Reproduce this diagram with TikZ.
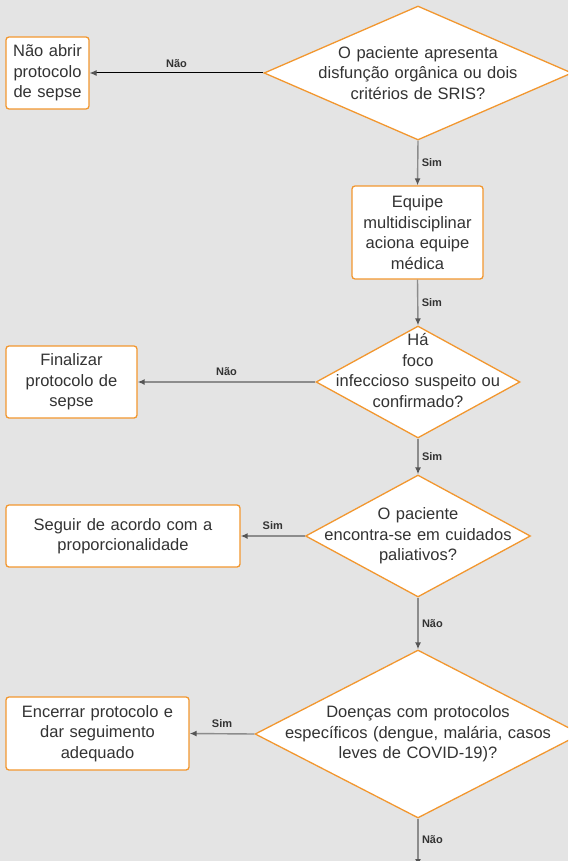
\documentclass[tikz,border=0pt]{standalone}
\usepackage{fontspec}
\setmainfont{Liberation Sans}
\usepackage{xcolor}
\usepackage{tikz}
\usetikzlibrary{shapes.geometric,arrows.meta}

\definecolor{fundo}{HTML}{E4E4E4}
\definecolor{laranja}{HTML}{F2972F}
\definecolor{texto}{HTML}{333333}
\definecolor{linha}{HTML}{8C8C8C}
\definecolor{ponta}{HTML}{555555}

\begin{document}
\begin{tikzpicture}[x=1pt, y=-1pt,
  caixa/.style={draw=laranja, fill=white, rounded corners=3pt, line width=1.3pt,
    align=center, inner xsep=4pt, inner ysep=0pt, text=texto,
    font=\fontsize{16.5}{20.5}\selectfont},
  decisao/.style={diamond, draw=laranja, fill=white, line width=1.3pt,
    align=center, inner sep=-25pt, text=texto,
    font=\fontsize{16.5}{20.5}\selectfont},
  seta/.style={draw=linha, line width=1.4pt, -{Latex[length=7pt,width=6pt,color=ponta]}},
  rotulo/.style={font=\fontsize{11}{13}\bfseries\selectfont, text=texto},
  acima/.style={rotulo, above, yshift=2pt}
]
  \useasboundingbox (0,0) rectangle (568,861);
  \fill[fundo] (0,0) rectangle (568,861);
  \clip (0,0) rectangle (568,861);

  % perguntas
  \node[decisao, aspect=2.3, minimum width=308, minimum height=134, text width=220] (q1) at (418,73)
    {O paciente apresenta\\disfunção orgânica ou dois\\critérios de SRIS?};
  \node[decisao, aspect=1.82, minimum width=204, minimum height=112, text width=170,
    inner sep=-30pt] (q2) at (418,382)
    {Há\\foco\\infeccioso suspeito ou\\confirmado?\\[3pt]\mbox{}};
  \node[decisao, aspect=1.84, minimum width=225, minimum height=122, text width=205] (q3) at (418,536)
    {O paciente\\encontra-se em cuidados\\paliativos?};
  \node[decisao, aspect=1.94, minimum width=326, minimum height=168, text width=285] (q4) at (418,734)
    {Doenças com protocolos\\específicos (dengue, malária, casos\\leves de COVID-19)?};

  % caixas
  \node[caixa, text width=75, minimum height=72] (naoabrir) at (47.5,73)
    {Não abrir\\protocolo\\de sepse};
  \node[caixa, text width=123, minimum height=93] (equipe) at (417.5,232.5)
    {Equipe\\multidisciplinar\\aciona equipe\\médica};
  \node[caixa, text width=123, minimum height=72] (finalizar) at (71.5,382)
    {Finalizar\\protocolo de\\sepse};
  \node[caixa, text width=226, minimum height=62] (seguir) at (123,536)
    {Seguir de acordo com a\\proporcionalidade};
  \node[caixa, text width=175, minimum height=73] (encerrar) at (97.5,733.5)
    {Encerrar protocolo e\\dar seguimento\\adequado};
  \coordinate (fim) at (418,866);

  % ligacoes
  \draw[seta, draw=black, line width=1pt] (q1.west) -- node[acima] {Não} (naoabrir.east);
  \draw[seta] (q1.south) -- node[rotulo, right] {Sim} (equipe.north);
  \draw[seta] (equipe.south) -- node[rotulo, right] {Sim} (q2.north);
  \draw[seta] (q2.west) -- node[acima] {Não} (finalizar.east);
  \draw[seta] (q2.south) -- node[rotulo, right] {Sim} (q3.north);
  \draw[seta] (q3.west) -- node[acima] {Sim} (seguir.east);
  \draw[seta] (q3.south) -- node[rotulo, right] {Não} (q4.north);
  \draw[seta] (q4.west) -- node[acima] {Sim} (encerrar.east);
  \draw[seta] (q4.south) -- node[rotulo, right, pos=0.45] {Não} (fim);
\end{tikzpicture}
\end{document}
